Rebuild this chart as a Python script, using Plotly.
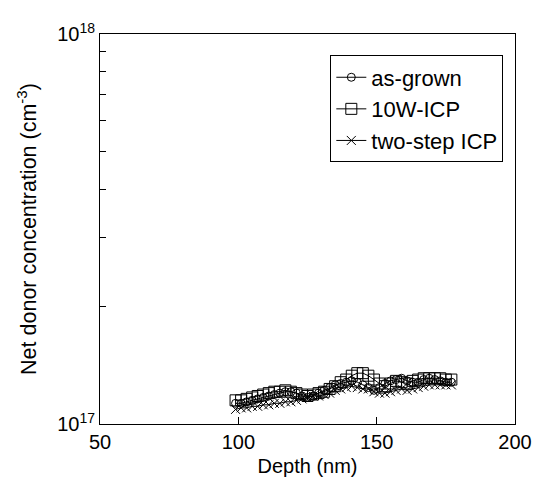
import plotly.graph_objects as go

depth = [99, 101, 103, 105, 107, 109, 111, 113, 115, 117, 119, 121, 123, 125, 127, 129, 131, 133, 135, 137,
         139, 141, 143, 145, 147, 149, 151, 153, 155, 157, 159, 161, 163, 165, 167, 169, 171, 173, 175, 177]

as_grown = [1.13, 1.13, 1.14, 1.15, 1.16, 1.17, 1.18, 1.19, 1.20, 1.21, 1.21, 1.20, 1.18, 1.17, 1.18, 1.20,
            1.22, 1.24, 1.26, 1.27, 1.28, 1.29, 1.28, 1.26, 1.24, 1.22, 1.24, 1.27, 1.29, 1.30, 1.31, 1.29,
            1.28, 1.28, 1.30, 1.31, 1.30, 1.29, 1.28, 1.28]

w10_icp = [1.15, 1.15, 1.16, 1.17, 1.18, 1.19, 1.20, 1.21, 1.21, 1.22, 1.21, 1.20, 1.19, 1.18, 1.19, 1.20,
           1.21, 1.23, 1.25, 1.28, 1.30, 1.33, 1.35, 1.35, 1.33, 1.30, 1.27, 1.25, 1.27, 1.29, 1.28, 1.27,
           1.29, 1.30, 1.31, 1.31, 1.31, 1.31, 1.30, 1.30]

two_step = [1.09, 1.10, 1.10, 1.11, 1.11, 1.12, 1.12, 1.13, 1.13, 1.14, 1.14, 1.15, 1.16, 1.17, 1.18, 1.18,
            1.19, 1.20, 1.22, 1.23, 1.24, 1.25, 1.24, 1.23, 1.23, 1.21, 1.20, 1.20, 1.21, 1.22, 1.23, 1.22,
            1.23, 1.24, 1.25, 1.26, 1.26, 1.26, 1.26, 1.26]

y_tickvals = [1e17, 2e17, 3e17, 4e17, 5e17, 6e17, 7e17, 8e17, 9e17, 1e18]
y_ticktext = ["10<sup>17</sup>", "", "", "", "", "", "", "", "", "10<sup>18</sup>"]
x_tickvals = [50, 100, 150, 200]

scale = 1e17
fig = go.Figure()
series = [
    ("as-grown", as_grown, "circle-open", 8),
    ("10W-ICP", w10_icp, "square-open", 11),
    ("two-step ICP", two_step, "x-thin-open", 9),
]
for i, (name, vals, sym, sz) in enumerate(series):
    fig.add_trace(go.Scatter(
        x=depth, y=[v * scale for v in vals], name=name, mode="lines+markers",
        line=dict(color="black", width=1),
        marker=dict(symbol=sym, size=sz, color="black", line=dict(color="black", width=1)),
        legendgroup=f"g{i}",
    ))

font = "Liberation Sans, Arial, sans-serif"
fig.update_layout(
    width=553, height=477,
    margin=dict(l=92, r=46, t=20, b=61),
    paper_bgcolor="white", plot_bgcolor="white",
    font=dict(family=font, size=20, color="black"),
    showlegend=True,
    legend=dict(
        x=0.555, y=0.945, xanchor="left", yanchor="top",
        bordercolor="black", borderwidth=1, bgcolor="white",
        font=dict(size=22), itemwidth=30, traceorder="grouped", tracegroupgap=0,
    ),
    xaxis=dict(
        range=[50, 200], tickvals=x_tickvals, ticks="inside", ticklen=7, tickcolor="black",
        showline=True, linecolor="black", linewidth=1, mirror=True, showgrid=False, zeroline=False,
        tickfont=dict(size=20),
        title=dict(text="Depth (nm)", font=dict(size=20), standoff=6),
    ),
    yaxis=dict(
        type="log", range=[17, 18], tickvals=y_tickvals, ticktext=y_ticktext,
        ticks="inside", ticklen=6, tickcolor="black",
        showline=True, linecolor="black", linewidth=1, mirror=True, showgrid=False, zeroline=False,
        tickfont=dict(size=20),
        title=dict(text="Net donor concentration (cm<sup>-3</sup>)", font=dict(size=21.5), standoff=14),
    ),
)

fig.write_html("out.html")
